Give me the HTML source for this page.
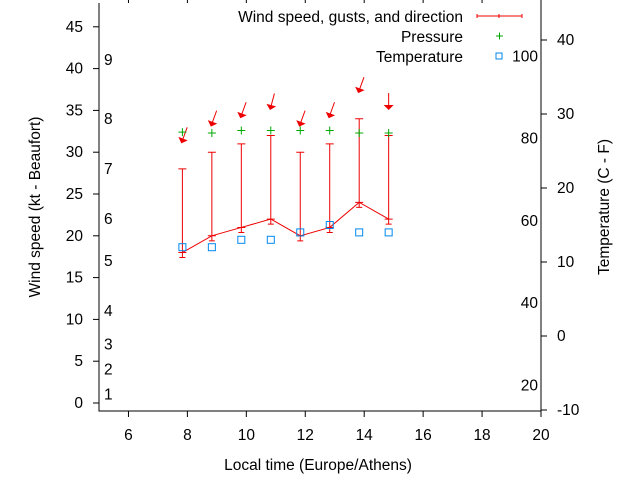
<!DOCTYPE html>
<html><head><meta charset="utf-8"><style>
body{margin:0;background:#fff}
svg{display:block;font-family:"Liberation Sans",sans-serif;font-size:15.5px}
</style></head><body>
<svg id="c" width="640" height="480">
<g id="axes"></g>
<g id="marks"></g>
<text x="318" y="470" text-anchor="middle">Local time (Europe/Athens)</text>
<text transform="translate(40,207) rotate(-90)" text-anchor="middle">Wind speed (kt - Beaufort)</text>
<text transform="translate(609,207) rotate(-90)" text-anchor="middle">Temperature (C - F)</text>
<g>
<text x="463" y="22" text-anchor="end">Wind speed, gusts, and direction</text>
<g stroke="#e00" stroke-width="1"><line x1="477" y1="16" x2="522" y2="16"/><line x1="477" y1="14" x2="477" y2="18"/><line x1="522" y1="14" x2="522" y2="18"/><line x1="499" y1="14" x2="499" y2="18"/></g>
<text x="463" y="42" text-anchor="end">Pressure</text>
<g stroke="#0a0"><line x1="496" y1="36" x2="503" y2="36"/><line x1="499.5" y1="32.5" x2="499.5" y2="39.5"/></g>
<text x="463" y="62" text-anchor="end">Temperature</text>
<rect x="496" y="53" width="6" height="6" fill="none" stroke="#08e"/>
</g>
</svg>
<script>
const hours=[7.83,8.83,9.83,10.83,11.83,12.83,13.83,14.83];
const wind=[18,20,21,22,20,21,24,22];
const gusts=[28,30,31,32,30,31,34,32];
const dirDeg=[20,20,20,15,20,20,20,0];
const pressure=[32.4,32.3,32.6,32.6,32.6,32.6,32.3,32.3];
const tempC=[12,12,13,13,14,15,14,14];
const xTicks=[6,8,10,12,14,16,18,20];
const yTicks=[0,5,10,15,20,25,30,35,40,45];
const y2Ticks=[-10,0,10,20,30,40];
const beaufort=[[1,1],[2,4],[3,7],[4,11],[5,17],[6,22],[7,28],[8,34],[9,41]];
const fahr=[20,40,60,80,100];
const NS='http://www.w3.org/2000/svg';
const L=99,R=541,T=3,B=411;
const xs=v=>L+(v-5)*(R-L)/15;
const ys=v=>403-v*8.36;
const y2s=v=>410-(v+10)*7.4;
function mk(p,tag,a,txt){const e=document.createElementNS(NS,tag);for(const k in a)e.setAttribute(k,a[k]);if(txt!==undefined)e.textContent=txt;p.appendChild(e);return e;}
const ax=document.getElementById('axes'),mg=document.getElementById('marks');
const frame=mk(ax,'path',{d:`M${L},${T}V${B}H${R}V${T}`,fill:'none',stroke:'#000'});


xTicks.forEach(v=>{const x=xs(v);
 const t=mk(ax,'path',{d:`M${x},${B}v6M${x},${T}v-6`,stroke:'#000'});
 
 
 const l=mk(ax,'text',{x:x,y:440,'text-anchor':'middle'},v);
 
 });
yTicks.forEach(v=>{const y=ys(v);
 const t=mk(ax,'path',{d:`M${L},${y}h-6`,stroke:'#000'});
 
 
 const l=mk(ax,'text',{x:83,y:y+5,'text-anchor':'end'},v);
 
 });
y2Ticks.forEach(v=>{const y=y2s(v);
 const t=mk(ax,'path',{d:`M${R},${y}h6`,stroke:'#000'});
 
 
 const l=mk(ax,'text',{x:557,y:y+5},v);
 
 });
beaufort.forEach(b=>{const l=mk(ax,'text',{x:104,y:ys(b[1])+5},b[0]);
 
 });
fahr.forEach(f=>{const c=(f-32)*5/9;const l=mk(ax,'text',{x:538,y:y2s(c)+5,'text-anchor':'end'},f);
 
 });
const line=mk(mg,'polyline',{points:hours.map((h,i)=>xs(h)+','+ys(wind[i])).join(' '),fill:'none',stroke:'#e00'});


hours.forEach((h,i)=>{const x=xs(h),yl=ys(wind[i]-0.6),yh=ys(gusts[i]),yw=ys(wind[i]);
 const e=mk(mg,'path',{d:`M${x},${yl}V${yh}M${x-4},${yh}h8M${x-3},${yl}h6M${x-4},${yw}h8`,stroke:'#e00',fill:'none'});
 
 
 const ay=ys(gusts[i]+3.4),a=dirDeg[i]*Math.PI/180;
 const tx=x+Math.sin(a)*14,ty=ay-Math.cos(a)*14;
 const ar=mk(mg,'g',{});
 
 
 mk(ar,'line',{x1:tx,y1:ty,x2:x,y2:ay,stroke:'#e00'});
 mk(ar,'path',{d:`M${x-5},${ay-2}L${x+5},${ay-2}L${x},${ay+3}Z`,fill:'#e00',transform:`rotate(${dirDeg[i]} ${x} ${ay})`});
 const py=ys(pressure[i]);
 const p=mk(mg,'path',{d:`M${x-4},${py}h8M${x},${py-4}v8`,stroke:'#0a0'});
 
 
 const ty2=y2s(tempC[i]);
 const s=mk(mg,'rect',{x:x-3.5,y:ty2-3.5,width:7,height:7,fill:'none',stroke:'#08e'});
 
 
});
</script>
</body></html>
